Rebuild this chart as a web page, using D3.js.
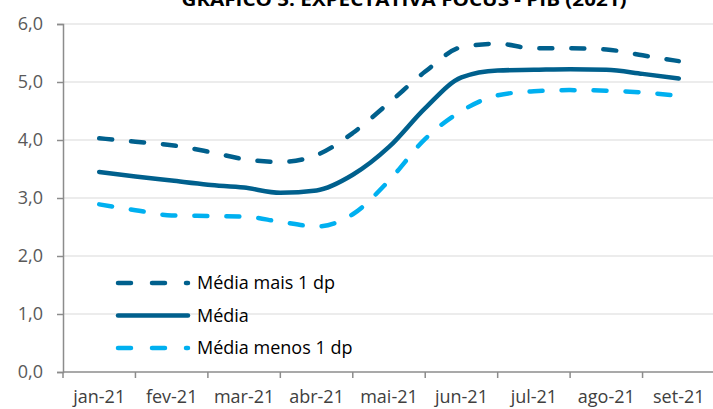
<!DOCTYPE html>
<html>
<head>
<meta charset="utf-8">
<script src="https://cdn.jsdelivr.net/npm/d3@7"></script>
<style>
  body { margin: 0; background: #fff; }
  text { font-family: "Open Sans", "Liberation Sans", sans-serif; }
</style>
</head>
<body>
<div id="chart"></div>
<script>
// Parameters
var width  = 713,
    height = 409;

var margin = { left: 63, right: -2, top: 24, bottom: 37 };

// Data (half-month steps)
var months = ["jan-21", "fev-21", "mar-21", "abr-21", "mai-21", "jun-21", "jul-21", "ago-21", "set-21"];
var steps  = [0, 0.5, 1, 1.5, 2, 2.5, 3, 3.5, 4, 4.5, 5, 5.5, 6, 6.5, 7, 7.5, 8];
var mediaMais  = [4.03, 3.97, 3.91, 3.80, 3.67, 3.62, 3.74, 4.12, 4.64, 5.18, 5.60, 5.66, 5.58, 5.58, 5.56, 5.46, 5.36];
var media      = [3.45, 3.37, 3.30, 3.23, 3.18, 3.09, 3.13, 3.40, 3.88, 4.55, 5.08, 5.20, 5.21, 5.22, 5.21, 5.14, 5.06];
var mediaMenos = [2.89, 2.79, 2.70, 2.69, 2.68, 2.59, 2.51, 2.72, 3.30, 4.02, 4.50, 4.77, 4.84, 4.86, 4.85, 4.82, 4.76];
var yTicks = [0, 1, 2, 3, 4, 5, 6];
var title = "GRÁFICO 5: EXPECTATIVA FOCUS - PIB (2021)";
var legendLabels = ["Média mais 1 dp", "Média", "Média menos 1 dp"];

var darkBlue  = "#00608d",
    lightBlue = "#00b0f0",
    axisGrey  = "#8c8c8c",
    gridGrey  = "#ececec";

var svg = d3.select("#chart")
    .append("svg")
    .attr("width", width)
    .attr("height", height);

// scales
var x = d3.scaleBand()
    .domain(months)
    .range([margin.left, width - margin.right]);

var xStep = d3.scaleLinear()
    .domain([0, months.length - 1])
    .range([x(months[0]) + x.bandwidth() / 2, x(months[months.length - 1]) + x.bandwidth() / 2]);

var y = d3.scaleLinear()
    .domain([0, 6])
    .range([height - margin.bottom, margin.top]);

// gridlines
svg.append("g")
    .selectAll("line")
    .data(yTicks.slice(1))
    .enter()
    .append("line")
    .attr("x1", margin.left)
    .attr("x2", width)
    .attr("y1", d => y(d))
    .attr("y2", d => y(d))
    .attr("stroke", gridGrey)
    .attr("stroke-width", 2);

// title (cut at the top in the original)
svg.append("text")
    .attr("x", 404)
    .attr("y", 6)
    .attr("text-anchor", "middle")
    .attr("font-weight", "bold")
    .attr("font-size", 18)
    .attr("textLength", 445)
    .attr("lengthAdjust", "spacingAndGlyphs")
    .attr("fill", "#000")
    .text(title);

// y axis
var yAxis = svg.append("g")
    .attr("transform", "translate(" + margin.left + ",0)")
    .call(d3.axisLeft(y).tickValues(yTicks).tickSize(6).tickPadding(14)
        .tickFormat(d => d3.format(".1f")(d).replace(".", ",")));
yAxis.selectAll("text").attr("font-size", 18).attr("fill", "#595959")
    .style("font-family", "'Open Sans', sans-serif");

// x axis - ticks on band edges
var xAxis = svg.append("g")
    .attr("transform", "translate(0," + y(0) + ")")
    .call(d3.axisBottom(x).tickSize(0).tickPadding(18));
xAxis.selectAll("text").attr("font-size", 18).attr("fill", "#404040")
    .style("font-family", "'Open Sans', sans-serif");

var edges = months.map(m => x(m)).concat([x(months[months.length - 1]) + x.bandwidth()]);
xAxis.selectAll(".edge")
    .data(edges)
    .enter()
    .append("line")
    .attr("class", "edge")
    .attr("x1", d => d)
    .attr("x2", d => d)
    .attr("y1", 0)
    .attr("y2", 6);

svg.selectAll(".domain, .tick line, .edge")
    .attr("stroke", axisGrey)
    .attr("stroke-width", 1.5);
xAxis.select(".domain").attr("d", "M" + margin.left + ",0H" + width);

// lines
var line = d3.line()
    .x((d, i) => xStep(steps[i]))
    .y(d => y(d))
    .curve(d3.curveMonotoneX);

var series = [
    { values: mediaMais,  color: darkBlue,  dash: "13,19" },
    { values: media,      color: darkBlue,  dash: null },
    { values: mediaMenos, color: lightBlue, dash: "13,19" }
];

svg.append("g")
    .selectAll("path")
    .data(series)
    .enter()
    .append("path")
    .attr("d", d => line(d.values))
    .attr("fill", "none")
    .attr("stroke", d => d.color)
    .attr("stroke-width", 4.5)
    .attr("stroke-linecap", "round")
    .attr("stroke-dasharray", d => d.dash);

// legend
var legend = svg.append("g")
    .selectAll("g")
    .data(series)
    .enter()
    .append("g")
    .attr("transform", (d, i) => "translate(118," + (283 + i * 32.5) + ")");

legend.append("line")
    .attr("x1", 0)
    .attr("x2", 70)
    .attr("stroke", d => d.color)
    .attr("stroke-width", 4.5)
    .attr("stroke-linecap", "round")
    .attr("stroke-dasharray", d => d.dash ? "13,21" : null);

legend.append("text")
    .attr("x", 79)
    .attr("y", 6)
    .attr("font-size", 18)
    .attr("fill", "#000")
    .text((d, i) => legendLabels[i]);
</script>
</body>
</html>
